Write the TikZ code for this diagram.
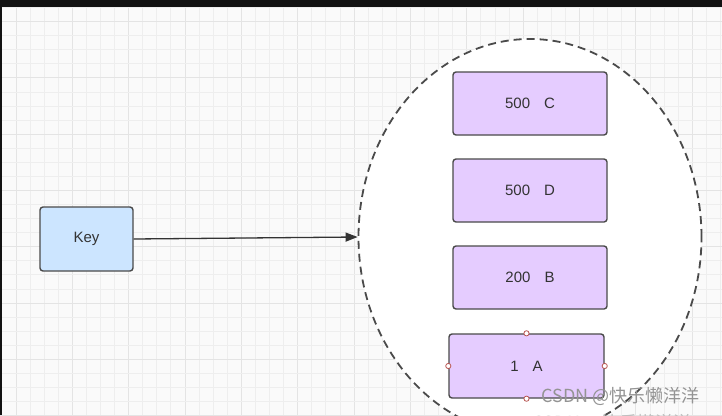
\documentclass[tikz,border=0pt]{standalone}
\usepackage{fontspec}
\setmainfont{Liberation Sans}
\newfontfamily\cjkfont{Noto Sans CJK SC}
\usepackage{tikz}
\usetikzlibrary{shapes.geometric, arrows.meta, positioning}
\definecolor{gridminor}{HTML}{EEEEEE}
\definecolor{gridmajor}{HTML}{E4E4E4}
\definecolor{keyfill}{HTML}{CCE5FF}
\definecolor{valfill}{HTML}{E5CCFF}
\definecolor{edgegray}{HTML}{4A4A4A}
\definecolor{txtgray}{HTML}{333333}
\definecolor{handlered}{HTML}{B85450}

\begin{document}
\begin{tikzpicture}[x=1pt, y=-1pt,
		keybox/.style={rectangle, draw=edgegray, fill=keyfill, line width=1.4pt, rounded corners=3pt, minimum width=93pt, minimum height=64pt, font=\fontsize{15}{18}\selectfont, text=txtgray},
		valbox/.style={rectangle, draw=edgegray, fill=valfill, line width=1.4pt, rounded corners=3pt, minimum width=154pt, minimum height=63pt, font=\fontsize{15}{18}\selectfont, text=txtgray},
		zset/.style={ellipse, draw=edgegray, fill=white, line width=1.8pt, dash pattern=on 8pt off 5pt, minimum width=343pt, minimum height=396pt, inner sep=0pt},
		handle/.style={draw=handlered, fill=white, line width=0.8pt},
		arrow/.style={-{Triangle[length=12pt, width=9pt]}, line width=1.3pt, draw=txtgray, fill=txtgray},
		watermark/.style={font=\fontsize{18}{20}\selectfont\cjkfont, text=black!42}
	]

	% 0. Latar: kanvas berpetak
	\useasboundingbox (0,0) rectangle (722,415);
	\clip (0,0) rectangle (722,415);
	\fill[black!2] (0,0) rectangle (722,415);
	\foreach \i in {-1,...,50} {
		\pgfmathtruncatemacro{\maj}{mod(\i+40,4)==0}
		\ifnum\maj=1 \def\gcol{gridmajor}\else\def\gcol{gridminor}\fi
		\draw[\gcol, line width=1pt] (16+14.09*\i,0) -- (16+14.09*\i,415);
	}
	\foreach \j in {-2,...,28} {
		\pgfmathtruncatemacro{\maj}{mod(\j+40,4)==0}
		\ifnum\maj=1 \def\gcol{gridmajor}\else\def\gcol{gridminor}\fi
		\draw[\gcol, line width=1pt] (0,21.7+14.07*\j) -- (722,21.7+14.07*\j);
	}

	% 1. Himpunan (elips putus-putus)
	\node[zset] (set) at (530,237) {};

	% 2. Kunci dan anggota
	\node[keybox] (key) at (86.5,239) {Key};
	\node[valbox] (c) at (530,103.5) {500\hspace{14pt}C};
	\node[valbox] (d) at (530,190.5) {500\hspace{14pt}D};
	\node[valbox] (b) at (530,277.5) {200\hspace{14pt}B};
	\node[valbox, minimum width=155pt, minimum height=64pt] (a) at (526.5,366) {1\hspace{14pt}A};

	% 3. Panah kunci ke himpunan
	\draw[arrow] (key.east) -- (set.west);

	% 4. Titik pegangan pada blok terpilih
	\foreach \p in {north, south, east, west}
		\draw[handle] (a.\p) circle (2.6pt);

	% 5. Tanda air
	\node[watermark] (wm) at (620.5,396) {CSDN @快乐懒洋洋};
	\node[watermark, text=black!25] (wm2) at (612,423) {CSDN @快乐懒洋洋};

	% 6. Bingkai gelap
	\fill[black!93] (0,0) rectangle (722,6.5);
	\fill[black!93] (0,0) rectangle (2,415);

\end{tikzpicture}
\end{document}
